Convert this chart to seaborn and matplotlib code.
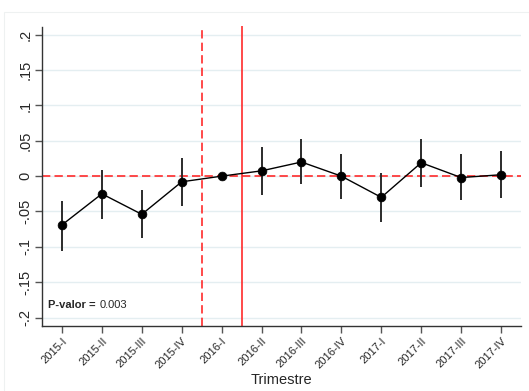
import matplotlib
matplotlib.use("Agg")
import matplotlib.pyplot as plt
import seaborn as sns
import pandas as pd
from matplotlib.patches import Rectangle

quarters = ["2015-I", "2015-II", "2015-III", "2015-IV", "2016-I", "2016-II",
            "2016-III", "2016-IV", "2017-I", "2017-II", "2017-III", "2017-IV"]
coef = [-0.069, -0.025, -0.054, -0.008, 0.000, 0.0075,
        0.020, 0.000, -0.030, 0.019, -0.002, 0.002]
ci_low = [-0.106, -0.061, -0.087, -0.042, None, -0.027,
          -0.011, -0.032, -0.065, -0.015, -0.034, -0.031]
ci_high = [-0.035, 0.008, -0.020, 0.025, None, 0.041,
           0.053, 0.032, 0.004, 0.053, 0.031, 0.035]
y_ticks = [0.2, 0.15, 0.1, 0.05, 0, -0.05, -0.1, -0.15, -0.2]
y_ticklabels = [".2", ".15", ".1", ".05", "0", "-.05", "-.1", "-.15", "-.2"]
p_value = "0.003"

df = pd.DataFrame({"pos": range(len(quarters)), "quarter": quarters,
                   "coef": coef, "lo": ci_low, "hi": ci_high})

sns.set_theme(style="white")
plt.rcParams["font.family"] = ["Liberation Sans", "DejaVu Sans"]

fig = plt.figure(figsize=(5.29, 3.91), dpi=100)
fig.patches.append(Rectangle((4 / 529, -0.05), 1.2, 1 - 12 / 391 + 0.05,
                             transform=fig.transFigure, fill=False,
                             edgecolor="#eef1f1", linewidth=0.8))
ax = fig.add_axes([42 / 529, 65 / 391, 479 / 529, 299 / 391])

for y in y_ticks:
    ax.axhline(y, color="#e4eef1", linewidth=1.0, zorder=0)

ci = df.dropna()
ax.vlines(ci["pos"], ci["lo"], ci["hi"], color="#2b2b2b", linewidth=1.4, zorder=2)
sns.lineplot(data=df, x="pos", y="coef", color="black", linewidth=1.0, ax=ax,
             zorder=3, sort=False)
sns.scatterplot(data=df, x="pos", y="coef", color="black", s=40,
                edgecolor="black", ax=ax, zorder=4)

red = "#ff2b2b"
ax.axhline(0, color=red, linestyle=(0, (5, 2.5)), linewidth=1.2, zorder=1)
ax.vlines(3.5, -0.212, 0.207, color=red, linestyle=(0, (5, 2.5)),
          linewidth=1.2, zorder=1, clip_on=False)
ax.vlines(4.5, -0.212, 0.2125, color=red, linewidth=1.2, zorder=1,
          clip_on=False)

ax.set_xlim(-0.5, 11.5)
ax.set_ylim(-0.212, 0.211)
ax.set_yticks(y_ticks)
ax.set_yticklabels(y_ticklabels, rotation=90, va="center", fontsize=10.5)
ax.set_xticks(range(len(quarters)))
ax.set_xticklabels(quarters, rotation=45, ha="right", rotation_mode="anchor",
                   fontsize=8)
ax.set_xlabel("Trimestre", fontsize=10.5, labelpad=2)
ax.set_ylabel("")

for s in ["top", "right"]:
    ax.spines[s].set_visible(False)
for s in ["left", "bottom"]:
    ax.spines[s].set_color("#333333")
    ax.spines[s].set_linewidth(1.0)
ax.tick_params(axis="both", which="both", length=5, width=1.0, color="#555555",
               left=True, bottom=True, direction="out", pad=2)

t1 = ax.text(0.012, 0.07, "P-valor = ", transform=ax.transAxes, fontsize=8,
             fontweight="bold", va="center", ha="left")
ax.annotate(p_value, xy=(1, 0.5), xycoords=t1, xytext=(1, 0),
            textcoords="offset points", fontsize=8, va="center", ha="left")

fig.savefig("out.png", dpi=100, facecolor="white")
